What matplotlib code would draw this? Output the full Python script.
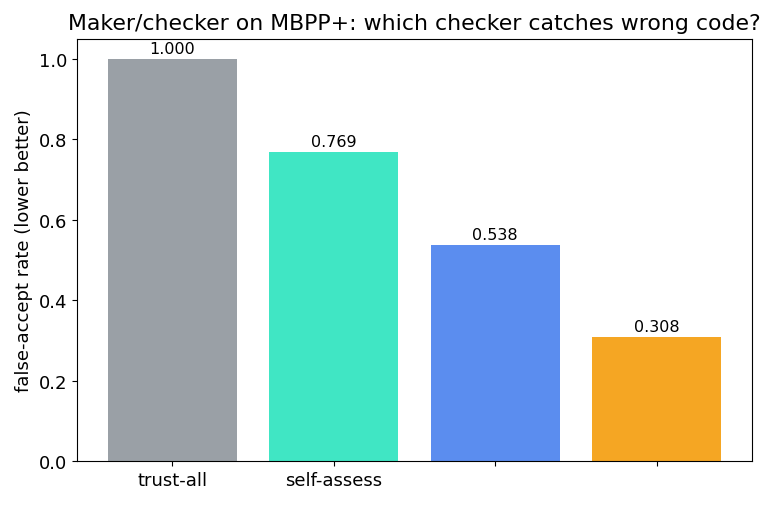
import matplotlib
matplotlib.use("Agg")
import matplotlib.pyplot as plt

# Data
checkers = ["trust-all", "self-assess", "", ""]  # last two labels are hidden in the reference
false_accept = [1.000, 0.769, 0.538, 0.308]
bar_colors = ["#9aa0a6", "#40e6c4", "#5b8def", "#f5a623"]

fig = plt.figure(figsize=(7.74, 5.06), dpi=100)
ax = fig.add_axes([0.0995, 0.087, 0.872, 0.834])

bars = ax.bar(range(len(false_accept)), false_accept, color=bar_colors, width=0.8)
ax.bar_label(bars, labels=[f"{v:.3f}" for v in false_accept], fontsize=11.5, padding=2)

ax.set_xticks(range(len(checkers)))
ax.set_xticklabels(checkers, fontsize=13)
ax.tick_params(axis="y", labelsize=13)
ax.set_ylabel("false-accept rate (lower better)", fontsize=13)
ax.set_title("Maker/checker on MBPP+: which checker catches wrong code?", fontsize=15.8, pad=7)

plt.savefig("out.png", dpi=100)
